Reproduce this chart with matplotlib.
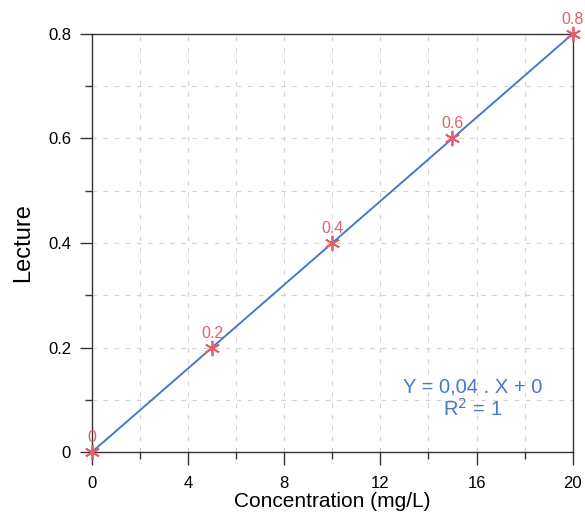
import matplotlib
matplotlib.use("Agg")
import matplotlib.pyplot as plt
from matplotlib.ticker import MultipleLocator

plt.rcParams["font.family"] = ["Liberation Sans", "DejaVu Sans"]

# calibration data
concentration = [0, 5, 10, 15, 20]
lecture = [0.0, 0.2, 0.4, 0.6, 0.8]
point_labels = ["0", "0.2", "0.4", "0.6", "0.8"]
slope = 0.04
intercept = 0.0

fig = plt.figure(figsize=(5.85, 5.12), dpi=100, facecolor="white")
ax = fig.add_axes([0.157, 0.117, 0.822, 0.817])

fit_x = [concentration[0], concentration[-1]]
fit_y = [slope * v + intercept for v in fit_x]
ax.plot(fit_x, fit_y, color="#4a78c8", linewidth=1.4, zorder=3)
ax.plot(concentration, lecture, linestyle="none", marker=(6, 2, 0),
        markersize=11, markeredgewidth=1.3, color="#e0606a", zorder=4,
        clip_on=False)

for xv, yv, lab in zip(concentration, lecture, point_labels):
    ax.annotate(lab, (xv, yv), xytext=(0, 5), textcoords="offset points",
                ha="center", va="bottom", fontsize=11.5, color="#e0606a",
                annotation_clip=False)

ax.text(0.791, 0.128, "Y = 0,04 . X + 0\nR$^2$ = 1", transform=ax.transAxes,
        ha="center", va="center", fontsize=14.5, color="#4a78c8",
        linespacing=1.05)

ax.set_xlim(0, 20)
ax.set_ylim(0, 0.8)
ax.xaxis.set_major_locator(MultipleLocator(4))
ax.xaxis.set_minor_locator(MultipleLocator(2))
ax.yaxis.set_minor_locator(MultipleLocator(0.1))
ax.set_yticks([0, 0.2, 0.4, 0.6, 0.8])
ax.set_yticklabels(["0", "0.2", "0.4", "0.6", "0.8"])
ax.tick_params(which="major", direction="out", length=9, width=1,
               labelsize=12, color="#333333")
ax.tick_params(axis="x", which="major", pad=8)
ax.tick_params(axis="y", which="major", pad=6)
ax.tick_params(which="minor", direction="out", length=5, width=1,
               color="#333333")
ax.grid(True, which="both", linestyle=(0, (4, 6)), color="#d2d2d2",
        linewidth=0.8)

for sp in ax.spines.values():
    sp.set_linewidth(1.0)
    sp.set_color("#333333")

ax.set_xlabel("Concentration (mg/L)", fontsize=15, labelpad=1)
ax.set_ylabel("Lecture", fontsize=17, labelpad=10)

fig.savefig("out.png", dpi=100, facecolor="white")
